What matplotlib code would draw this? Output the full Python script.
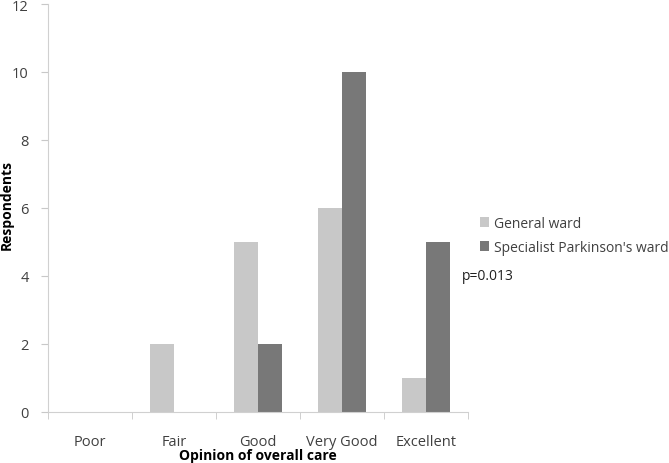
import matplotlib
matplotlib.use("Agg")
import matplotlib.pyplot as plt
import numpy as np

categories = ["Poor", "Fair", "Good", "Very Good", "Excellent"]
general_ward = [0, 2, 5, 6, 1]
specialist_ward = [0, 0, 2, 10, 5]
series_names = ["General ward", "Specialist Parkinson's ward"]
yticks = [0, 2, 4, 6, 8, 10, 12]

plt.rcParams['font.family'] = ['Open Sans', 'DejaVu Sans']

fig = plt.figure(figsize=(6.69, 4.64), dpi=100)
ax = fig.add_axes([48/669, 51/464, 420/669, 408/464])

x = np.arange(len(categories))
w = 0.2857
c1 = "#c8c8c8"
c2 = "#787878"
ax.bar(x - w/2, general_ward, w, color=c1, label=series_names[0])
ax.bar(x + w/2, specialist_ward, w, color=c2, label=series_names[1])

ax.set_xlim(-0.5, len(categories) - 0.5)
ax.set_ylim(0, 12)
ax.set_yticks(yticks)
ax.set_xticks(x)
ax.set_xticklabels(categories, fontsize=10.5, color="#404040")
ax.set_xticks(np.arange(-0.5, len(categories)), minor=True)
ax.tick_params(axis='x', which='major', length=0, pad=16)
ax.tick_params(axis='x', which='minor', length=5, color="#c8c8c8")
ax.tick_params(axis='y', length=5, color="#c8c8c8", labelsize=10.5, labelcolor="#404040", pad=9)
for s in ["top", "right"]:
    ax.spines[s].set_visible(False)
ax.spines["left"].set_color("#d0d0d0")
ax.spines["bottom"].set_color("#d0d0d0")

fig.text(258/669, 1 - 456/464, "Opinion of overall care", fontsize=10, fontweight="bold",
         ha="center", va="center")
fig.text(7/669, 1 - 205/464, "Respondents", fontsize=10, fontweight="bold",
         rotation=90, ha="center", va="center")

leg = fig.legend(loc="upper left", bbox_to_anchor=(474/669, 1 - 211/464), frameon=False,
                 fontsize=10, handlelength=0.7, handleheight=0.7, handletextpad=0.35,
                 labelspacing=0.65, borderaxespad=0)
for t in leg.get_texts():
    t.set_color("#404040")

fig.text(462/669, 1 - 277/464, "p=0.013", fontsize=10, color="#202020", va="center", ha="left")

fig.savefig("out.png", dpi=100)
